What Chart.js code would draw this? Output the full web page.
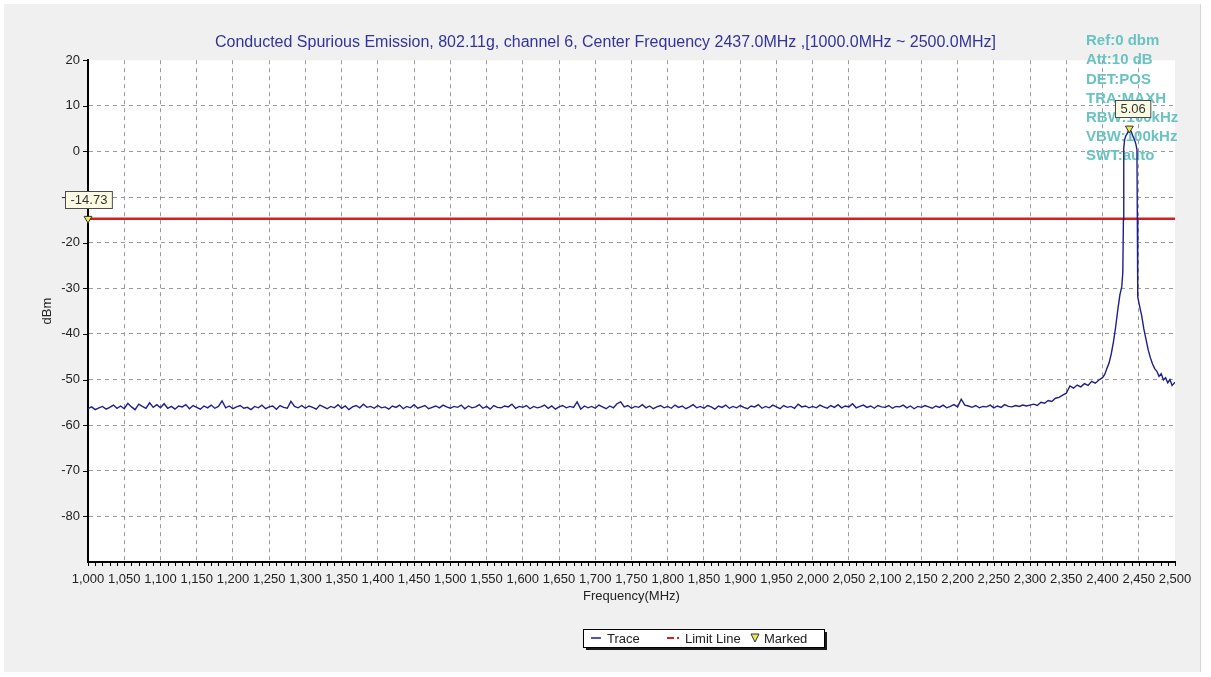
<!DOCTYPE html>
<html>
<head>
<meta charset="utf-8">
<title>Conducted Spurious Emission</title>
<script src="https://cdn.jsdelivr.net/npm/chart.js@4.4.1/dist/chart.umd.min.js"></script>
<style>
  html, body { margin: 0; padding: 0; background: #fff; }
  #marco { position: relative; width: 1211px; height: 677px; }
</style>
</head>
<body>
<div id="marco"><canvas id="grafico" width="1211" height="677"></canvas></div>
<script>
// Datos del analizador
const tituloGrafico =
  "Conducted Spurious Emission, 802.11g, channel 6, Center Frequency 2437.0MHz ,[1000.0MHz ~ 2500.0MHz]";
const ajustesEquipo = ["Ref:0 dbm", "Att:10 dB", "DET:POS", "TRA:MAXH", "RBW:100kHz", "VBW:100kHz", "SWT:auto"];
const nombresLeyenda = ["Trace", "Limit Line", "Marked"];

// barrido de ruido: 1000 .. 2395 MHz cada 5 MHz
const barridoInicio = 1000;
const barridoPaso = 5;
const nivelBarrido = [
  -56.4, -56.0, -56.6, -56.2, -55.9, -56.5, -56.1, -55.6, -56.3, -55.8, -56.4, -55.2, -56.0, -56.6, -55.4, -55.9, -56.3, -55.1, -56.1, -55.5,
  -56.2, -55.3, -56.3, -55.9, -56.5, -55.8, -56.0, -55.5, -56.4, -55.7, -56.1, -56.5, -55.8, -56.2, -55.6, -56.3, -55.9, -54.7, -56.2, -55.8,
  -56.4, -56.0, -55.7, -56.3, -56.1, -56.6, -55.9, -56.2, -55.6, -56.4, -56.0, -55.8, -56.5, -55.7, -56.1, -56.3, -54.8, -55.9, -56.2, -55.7,
  -56.3, -55.8, -56.1, -56.5, -55.6, -56.0, -56.4, -55.9, -56.2, -55.5, -56.3, -55.8, -56.6, -56.0, -55.7, -56.2, -55.4, -56.1, -55.9, -56.3,
  -55.7, -56.2, -56.0, -56.5, -55.8, -56.1, -55.6, -56.4, -55.9, -56.2, -55.5, -56.3, -56.0, -55.7, -56.4, -56.1, -55.8, -56.2, -55.6, -56.0,
  -56.3, -55.9, -56.1, -55.6, -56.4, -55.8, -56.2, -56.0, -55.5, -56.3, -55.9, -56.5, -55.7, -56.1, -56.2, -55.8, -56.0, -55.4, -56.3, -55.9,
  -56.1, -55.7, -56.4, -55.9, -56.2, -56.0, -55.6, -56.3, -55.8, -56.5, -56.0, -55.7, -56.2, -55.9, -56.1, -54.9, -56.5, -55.8, -56.2, -55.9,
  -56.3, -55.6, -56.0, -56.4, -55.8, -56.2, -55.3, -54.9, -56.0, -55.7, -56.3, -55.9, -56.1, -55.5, -56.2, -55.8, -56.4, -56.0, -55.7, -56.2,
  -55.9, -56.3, -55.6, -56.1, -55.8, -56.4, -56.0, -55.5, -56.2, -55.9, -56.3, -55.7, -56.0, -56.5, -55.8, -56.1, -55.6, -56.3, -55.9, -56.2,
  -55.7, -56.1, -56.4, -55.8, -56.0, -55.5, -56.3, -55.9, -56.2, -55.6, -56.0, -56.4, -55.7, -56.1, -55.9, -56.3, -55.4, -56.0, -55.8, -56.2,
  -55.9, -56.2, -55.6, -56.0, -56.3, -55.7, -56.1, -55.5, -56.2, -55.8, -56.0, -55.3, -56.2, -55.9, -55.6, -56.1, -55.8, -56.3, -55.7, -56.0,
  -56.1, -55.7, -56.3, -55.9, -56.0, -55.6, -56.2, -55.8, -56.4, -55.9, -56.1, -55.7, -56.0, -56.3, -55.8, -56.1, -55.6, -56.2, -55.9, -55.5,
  -56.0, -54.3, -55.6, -55.8, -56.1, -55.7, -56.2, -55.9, -56.0, -55.6, -56.2, -55.8, -56.1, -55.5, -55.9, -56.0, -55.7, -55.9, -55.6, -55.8,
  -55.6, -55.4, -55.7, -55.0, -55.2, -54.6, -54.8, -54.1, -53.9, -53.4, -53.0, -51.4, -51.9, -51.2, -51.6, -50.9, -51.3, -50.4, -50.8, -50.1,
];

// zona de la portadora (canal 6)
const picoFrecuencia = [
  2400, 2403, 2406, 2409, 2412, 2415, 2418, 2421, 2424, 2426.5, 2428, 2428.8, 2429.3, 2430.5, 2432, 2434, 2437,
  2440, 2442, 2444, 2446, 2447.5, 2448, 2448.6, 2451, 2454, 2457, 2460, 2463, 2466, 2469, 2472, 2475, 2478,
  2481, 2484, 2487, 2490, 2493, 2496, 2500,
];
const picoNivel = [
  -49.6, -48.9, -47.6, -46.4, -44.4, -41.8, -38.6, -34.8, -31.4, -29.7, -26.5, -15.0, 0.8, 2.6, 3.4, 3.9, 5.06,
  4.2, 3.3, 2.6, 1.6, 0.4, -14.5, -31.9, -33.8, -36.0, -38.9, -41.2, -43.5, -45.2, -46.6, -47.6, -48.2, -49.3,
  -48.7, -50.1, -49.6, -50.7, -50.0, -51.3, -50.6,
];

const limiteFrecuencia = [1000, 2500];
const limiteNivel = -14.73;

const marcaFrecuencia = [1000, 2437];
const marcaNivel = [-14.73, 5.06];

const FUENTE = "'Liberation Sans', Arial, sans-serif";

// Armar puntos de la traza
const traza = nivelBarrido.map((v, i) => ({ x: barridoInicio + i * barridoPaso, y: v }));
picoFrecuencia.forEach((f, i) => traza.push({ x: f, y: picoNivel[i] }));

const limite = limiteFrecuencia.map((f) => ({ x: f, y: limiteNivel }));
const marcas = marcaFrecuencia.map((f, i) => ({ x: f, y: marcaNivel[i] }));

// fondo gris + zona blanca del grafico
const fondo = {
  id: "fondo",
  beforeDraw(chart) {
    const { ctx, chartArea: a } = chart;
    ctx.save();
    ctx.fillStyle = "#ffffff";
    ctx.fillRect(0, 0, chart.width, chart.height);
    ctx.fillStyle = "#f0f0f0";
    ctx.fillRect(4, 4, 1196, 668);
    ctx.strokeStyle = "#d6d6d6";
    ctx.beginPath();
    ctx.moveTo(1200.5, 4);
    ctx.lineTo(1200.5, 672);
    ctx.stroke();
    ctx.fillStyle = "#ffffff";
    ctx.fillRect(a.left, a.top, a.right - a.left, a.bottom - a.top);
    ctx.restore();
  },
  beforeDatasetsDraw(chart) {
    // textos de configuracion del equipo (quedan debajo de la traza)
    const { ctx, chartArea: a } = chart;
    ctx.save();
    ctx.font = "bold 15px " + FUENTE;
    ctx.fillStyle = "#69c3c3";
    ctx.textBaseline = "middle";
    ctx.textAlign = "left";
    ajustesEquipo.forEach((t, i) => ctx.fillText(t, a.right - 89, 41 + i * 19.2));
    ctx.restore();
  },
};

// marcas de eje, etiquetas de marcadores y leyenda
const extras = {
  id: "extras",
  afterDatasetsDraw(chart) {
    const { ctx, chartArea: a, scales } = chart;
    const x = scales.x;
    const y = scales.y;
    ctx.save();
    ctx.strokeStyle = "#000";
    ctx.lineWidth = 1;
    ctx.beginPath();
    for (let f = x.min; f <= x.max; f += 10) {
      const px = Math.round(x.getPixelForValue(f)) + 0.5;
      ctx.moveTo(px, a.bottom);
      ctx.lineTo(px, a.bottom + 4);
    }
    for (let v = -80; v <= y.max; v += 10) {
      const py = Math.round(y.getPixelForValue(v)) + 0.5;
      ctx.moveTo(a.left - 5, py);
      ctx.lineTo(a.left, py);
    }
    ctx.stroke();

    // cajas con el valor de cada marcador
    ctx.font = "13px " + FUENTE;
    ctx.textAlign = "center";
    ctx.textBaseline = "middle";
    marcaFrecuencia.forEach((f, i) => {
      const px = x.getPixelForValue(f);
      const py = y.getPixelForValue(marcaNivel[i]);
      const txt = marcaNivel[i].toFixed(2);
      const w = ctx.measureText(txt).width + 10;
      const h = 17;
      const bx = Math.round(px - w / 2 + (i === 1 ? 3 : 0)) + 0.5;
      const by = Math.round(py - 11 - h) + 0.5;
      ctx.fillStyle = "#fbfbe3";
      ctx.fillRect(bx, by, w, h);
      ctx.strokeStyle = "#4a4a4a";
      ctx.strokeRect(bx, by, w, h);
      ctx.fillStyle = "#333";
      ctx.fillText(txt, bx + w / 2, by + h / 2 + 0.5);
    });
    ctx.restore();
  },
  afterDraw(chart) {
    const { ctx } = chart;
    const bx = 583, by = 629, bw = 241, bh = 18;
    const cy = by + bh / 2;
    ctx.save();
    ctx.fillStyle = "#1a1a1a";
    ctx.fillRect(bx + 3, by + 3, bw, bh);
    ctx.fillStyle = "#ffffff";
    ctx.fillRect(bx, by, bw, bh);
    ctx.strokeStyle = "#000";
    ctx.lineWidth = 1;
    ctx.strokeRect(bx + 0.5, by + 0.5, bw, bh);

    ctx.font = "13px " + FUENTE;
    ctx.fillStyle = "#222";
    ctx.textBaseline = "middle";
    ctx.textAlign = "left";

    // Trace
    ctx.strokeStyle = "#1e1e8c";
    ctx.lineWidth = 1.5;
    ctx.beginPath();
    ctx.moveTo(591, cy);
    ctx.lineTo(601, cy);
    ctx.stroke();
    ctx.fillText(nombresLeyenda[0], 607, cy + 1);

    // Limit Line
    ctx.strokeStyle = "#d62020";
    ctx.lineWidth = 2;
    ctx.beginPath();
    ctx.moveTo(667, cy);
    ctx.lineTo(674, cy);
    ctx.moveTo(677, cy);
    ctx.lineTo(679, cy);
    ctx.stroke();
    ctx.fillText(nombresLeyenda[1], 685, cy + 1);

    // Marked
    ctx.fillStyle = "#f2e94e";
    ctx.strokeStyle = "#333";
    ctx.lineWidth = 1;
    ctx.beginPath();
    ctx.moveTo(751, cy - 4);
    ctx.lineTo(759, cy - 4);
    ctx.lineTo(755, cy + 4);
    ctx.closePath();
    ctx.fill();
    ctx.stroke();
    ctx.fillStyle = "#222";
    ctx.fillText(nombresLeyenda[2], 764, cy + 1);
    ctx.restore();
  },
};

const colorRejilla = "#9a9a9a";

new Chart(document.getElementById("grafico"), {
  type: "line",
  data: {
    datasets: [
      {
        label: "Marked",
        data: marcas,
        showLine: false,
        pointStyle: "triangle",
        rotation: 180,
        pointRadius: 4.5,
        pointBackgroundColor: "#f2e94e",
        pointBorderColor: "#333",
        pointBorderWidth: 1,
        clip: false,
        order: 0,
      },
      {
        label: "Trace",
        data: traza,
        borderColor: "#1e1e8c",
        borderWidth: 1.4,
        pointRadius: 0,
        tension: 0,
        order: 1,
      },
      {
        label: "Limit Line",
        data: limite,
        borderColor: "#d62020",
        borderWidth: 2.5,
        pointRadius: 0,
        order: 2,
      },
    ],
  },
  options: {
    responsive: false,
    animation: false,
    layout: { padding: { left: 36, right: 36, top: 0, bottom: 69 } },
    plugins: {
      legend: { display: false },
      tooltip: { enabled: false },
      title: {
        display: true,
        text: tituloGrafico,
        color: "#3333a0",
        font: { family: FUENTE, size: 16, weight: "normal" },
        padding: { top: 33, bottom: 8 },
      },
    },
    scales: {
      x: {
        type: "linear",
        min: 1000,
        max: 2500,
        ticks: {
          stepSize: 50,
          autoSkip: false,
          maxRotation: 0,
          padding: 10,
          color: "#222",
          font: { family: FUENTE, size: 13 },
          callback: (v) => v.toLocaleString("en-US"),
        },
        grid: {
          drawTicks: false,
          lineWidth: 1,
          color: (c) => (c.tick && c.tick.value === 2500 ? "transparent" : colorRejilla),
        },
        border: { display: true, color: "#000", width: 2, dash: [4, 4] },
        title: {
          display: true,
          text: "Frequency(MHz)",
          color: "#222",
          font: { family: FUENTE, size: 13 },
          padding: { top: 4, bottom: 4 },
        },
        afterFit: (s) => {
          s.height = 46;
        },
      },
      y: {
        min: -90,
        max: 20,
        ticks: {
          stepSize: 10,
          padding: 8,
          color: "#222",
          font: { family: FUENTE, size: 13 },
          callback: (v) => (v === -90 ? "" : v),
        },
        grid: {
          drawTicks: false,
          lineWidth: 1,
          color: (c) => (c.tick && c.tick.value === 20 ? "transparent" : colorRejilla),
        },
        border: { display: true, color: "#000", width: 2, dash: [4, 4] },
        title: {
          display: true,
          text: "dBm",
          color: "#222",
          font: { family: FUENTE, size: 13 },
          padding: { top: 4, bottom: 4 },
        },
        afterFit: (s) => {
          s.width = 52;
        },
      },
    },
  },
  plugins: [fondo, extras],
});
</script>
</body>
</html>
